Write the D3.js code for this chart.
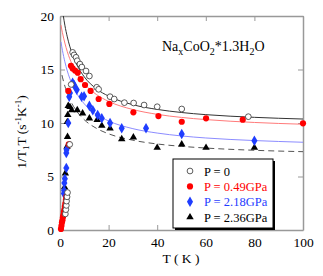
<!DOCTYPE html>
<html><head><meta charset="utf-8">
<script src="https://cdn.jsdelivr.net/npm/d3@7"></script>
<style>body{margin:0;background:#fff}svg{display:block}text{font-family:"Liberation Serif","Times New Roman",serif}</style>
</head><body>
<script>
// ---- data ----
const xTicks = [0, 20, 40, 60, 80, 100];
const yTicks = [0, 5, 10, 15, 20];
const seriesNames = ["P = 0", "P = 0.49GPa", "P = 2.18GPa", "P = 2.36GPa"];
const p0 = [[2.2,1.5],[2.4,1.9],[2.6,2.3],[2.7,2.7],[2.9,3.1],[3.1,3.5],[4.0,8.0],[4.6,13.6],[5.2,16.6],[5.8,16.36],[6.6,16.14],[7.1,15.82],[8.2,15.51],[9.0,15.23],[10.7,14.86],[12.1,14.39],[15.1,13.34],[15.9,13.15],[20.6,12.46],[22.3,12.24],[26.5,11.9],[30.3,11.87],[34.6,11.68],[40,11.52],[50.1,11.31],[77.5,10.59]];
const p049 = [[0.4,0.1],[0.6,0.4],[0.8,0.7],[1.0,0.9],[1.2,1.2],[1.4,1.4],[1.6,1.7],[1.8,1.9],[2.0,2.2],[2.2,2.5],[2.4,2.8],[2.6,3.1],[3.6,8.0],[3.4,13.0],[4.5,15.35],[5.2,15.1],[6.2,14.9],[7.3,14.7],[8.5,14.1],[10.3,13.55],[12.6,13.0],[15.9,12.24],[20.3,11.78],[30.2,11.0],[40.5,10.65],[50.1,10.12],[60.1,10.44],[75.2,10.31],[100,9.97]];
const p218 = [[1.6,3.4],[1.7,3.7],[1.8,4.4],[2.0,4.8],[2.6,5.8],[2.6,7.2],[2.7,7.5],[3.4,10.0],[3.8,12.45],[4.1,12.8],[5.2,13.77],[5.8,13.55],[6.9,13.1],[8.9,12.45],[9.9,12.5],[12.1,11.6],[13.5,11.2],[15.5,10.75],[17.2,10.44],[20.6,10.0],[25.4,9.5],[35.4,9.5],[50.1,8.97],[80,8.34]];
const p236 = [[1.9,4.0],[2.2,5.3],[2.9,7.8],[3.1,8.7],[3.0,10.1],[3.2,10.75],[3.4,11.6],[4.1,11.5],[4.8,11.2],[7.1,11.2],[9.3,10.9],[12.1,10.44],[15.3,10.3],[17.2,9.75],[20.6,9.5],[25.4,8.5],[30.2,8.66],[40,7.69],[50.1,8.01],[60.1,7.69],[80,7.69]];
// fitted curves
const fit0 = [[1.37,20.0],[2,19.14],[3,18.05],[5,16.48],[7,15.41],[10,14.31],[15,13.19],[20,12.51],[30,11.71],[40,11.27],[50,10.98],[60,10.78],[80,10.53],[100,10.37]];
const fit049 = [[0.4,19.15],[1,18.44],[2,17.47],[3,16.67],[5,15.47],[7,14.6],[10,13.66],[15,12.66],[20,12.02],[30,11.26],[40,10.81],[50,10.52],[60,10.32],[80,10.05],[100,9.885]];
const fit218 = [[0.4,17.58],[1,16.79],[2,15.72],[3,14.87],[5,13.61],[7,12.72],[10,11.79],[15,10.81],[20,10.19],[30,9.47],[40,9.06],[50,8.79],[60,8.6],[80,8.36],[100,8.2]];
const fit236 = [[0.8,14.48],[1,14.29],[2,13.45],[3,12.78],[5,11.78],[7,11.06],[10,10.3],[15,9.5],[20,8.99],[30,8.39],[40,8.04],[50,7.82],[60,7.66],[80,7.45],[100,7.32]];

const W = 323, H = 276;
const svg = d3.select("body").append("svg").attr("width", W).attr("height", H);
const x = d3.scaleLinear().domain([0, 100]).range([60, 303]);
const y = d3.scaleLinear().domain([0, 20]).range([230, 16]);
const axisCol = "#999";

svg.append("clipPath").attr("id","clip").append("rect")
  .attr("x", x(0)).attr("y", y(20)).attr("width", x(100)-x(0)).attr("height", y(0)-y(20));

function styleAxis(g, labels){
  g.select(".domain").attr("stroke", axisCol).attr("stroke-width", 1.5);
  g.selectAll(".tick line").attr("stroke", axisCol).attr("stroke-width", 1);
  g.selectAll(".tick text").attr("fill", "#000").style("font-size", "13.5px")
    .style("font-family", '"Liberation Serif", serif');
  if (!labels) g.selectAll(".tick text").remove();
}
svg.append("g").attr("transform", `translate(0,${y(0)})`)
  .call(d3.axisBottom(x).tickValues(xTicks).tickSize(-5).tickPadding(7).tickSizeOuter(0))
  .call(g => styleAxis(g, true));
svg.append("g").attr("transform", `translate(0,${y(20)})`)
  .call(d3.axisTop(x).tickValues(xTicks).tickSize(-5).tickSizeOuter(0))
  .call(g => styleAxis(g, false));
svg.append("g").attr("transform", `translate(${x(0)},0)`)
  .call(d3.axisLeft(y).tickValues(yTicks).tickSize(-5).tickPadding(6).tickSizeOuter(0))
  .call(g => styleAxis(g, true));
svg.append("g").attr("transform", `translate(${x(100)},0)`)
  .call(d3.axisRight(y).tickValues(yTicks).tickSize(-5).tickSizeOuter(0))
  .call(g => styleAxis(g, false));

// curves
const line = d3.line().x(d => x(d[0])).y(d => y(d[1])).curve(d3.curveMonotoneX);
const curves = [
  {d: fit0, c: "#333", dash: null},
  {d: fit049, c: "#ff7a7a", dash: null},
  {d: fit218, c: "#8c8cff", dash: null},
  {d: fit236, c: "#555", dash: "6,4"}
];
const cg = svg.append("g").attr("clip-path", "url(#clip)");
curves.forEach(c => cg.append("path").attr("d", line(c.d)).attr("fill", "none")
  .attr("stroke", c.c).attr("stroke-width", 1).attr("stroke-dasharray", c.dash));

// markers
const sym = {
  circle: d3.symbol().type(d3.symbolCircle).size(26),
  red: d3.symbol().type(d3.symbolCircle).size(30),
  diamond: d3.symbol().type(d3.symbolDiamond).size(32),
  tri: d3.symbol().type(d3.symbolTriangle).size(24)
};
const specs = [
  {d: p0, s: sym.circle, fill: "#fff", stroke: "#333"},
  {d: p049, s: sym.red, fill: "#ff0000", stroke: "none"},
  {d: p218, s: sym.diamond, fill: "#1f3dff", stroke: "none"},
  {d: p236, s: sym.tri, fill: "#000", stroke: "none"}
];
const mg = svg.append("g");
[3,2,1,0].forEach(i => {
  const sp = specs[i];
  mg.selectAll(null).data(sp.d).join("path")
    .attr("transform", d => `translate(${x(d[0])},${y(d[1])})`)
    .attr("d", sp.s()).attr("fill", sp.fill).attr("stroke", sp.stroke).attr("stroke-width", 0.8);
});

// annotation
const ann = svg.append("text").attr("x", 162).attr("y", 51).style("font-size", "14px");
ann.append("tspan").text("Na");
ann.append("tspan").attr("dy", 4).style("font-size", "10px").text("x");
ann.append("tspan").attr("dy", -4).text("CoO");
ann.append("tspan").attr("dy", 4).style("font-size", "10px").text("2");
ann.append("tspan").attr("dy", -4).text("*1.3H");
ann.append("tspan").attr("dy", 4).style("font-size", "10px").text("2");
ann.append("tspan").attr("dy", -4).text("O");

// axis titles
svg.append("text").attr("x", 181).attr("y", 263).attr("text-anchor", "middle")
  .style("font-size", "13.5px").text("T ( K )");
const yl = svg.append("text").attr("transform", "translate(26,132) rotate(-90)")
  .attr("text-anchor", "middle").style("font-size", "13.5px");
yl.append("tspan").text("1/T");
yl.append("tspan").attr("dy", 3).style("font-size", "9px").text("1");
yl.append("tspan").attr("dy", -3).text("T (s");
yl.append("tspan").attr("dy", -5).style("font-size", "9px").text("-1");
yl.append("tspan").attr("dy", 5).text("K");
yl.append("tspan").attr("dy", -5).style("font-size", "9px").text("-1");
yl.append("tspan").attr("dy", 5).text(")");

// legend
const lg = svg.append("g");
lg.append("rect").attr("x", 175).attr("y", 161).attr("width", 100).attr("height", 69).attr("fill", "#000");
lg.append("rect").attr("x", 173).attr("y", 159).attr("width", 100).attr("height", 69)
  .attr("fill", "#fff").attr("stroke", "#000").attr("stroke-width", 1);
const legCols = ["#000", "#ff0000", "#1f3dff", "#000"];
seriesNames.forEach((n, i) => {
  const yy = 171 + i * 15.4;
  const sp = specs[i];
  lg.append("path").attr("transform", `translate(190,${yy})`).attr("d", sp.s())
    .attr("fill", sp.fill).attr("stroke", sp.stroke).attr("stroke-width", 0.8);
  lg.append("text").attr("x", 204).attr("y", yy + 4.5).style("font-size", "12.5px")
    .attr("fill", legCols[i]).text(n);
});
</script>
</body></html>
